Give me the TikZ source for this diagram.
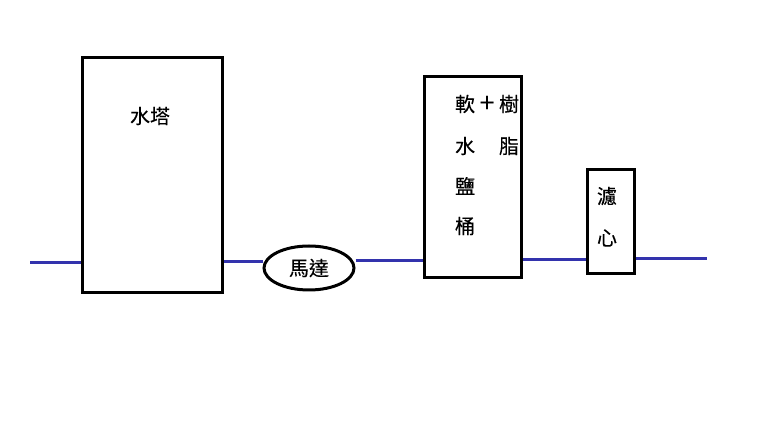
\documentclass[tikz,border=0pt]{standalone}
\usepackage{fontspec}
\newfontfamily\cjk{Noto Sans CJK TC}[FakeBold=0.3]
\usetikzlibrary{shapes.geometric}

\begin{document}
\begin{tikzpicture}[x=1pt,y=-1pt,
    line width=3pt,
    tank/.style = {
      draw,
      rectangle,
      inner sep = 0pt
    },
    pipe/.style = {
      draw = blue!60!black!80,
      line width = 3pt
    },
    txt/.style = {
      font = \cjk\fontsize{20}{20}\selectfont,
      inner sep = 0pt
    }
  ]
  \useasboundingbox (0,0) rectangle (780,430);

  % tanks
  \node[tank,minimum width=140,minimum height=235] (tower) at (152,175.5) {};
  \node[tank,minimum width=97,minimum height=201] (softener) at (472.5,177.5) {};
  \node[tank,minimum width=47,minimum height=104] (filter) at (610.5,222) {};
  \node[draw,ellipse,minimum width=90,minimum height=44] (motor) at (309,268)
    {\cjk\fontsize{20}{20}\selectfont 馬達};

  % labels
  \node[txt] (towerlbl) at (150,116) {水塔};
  \node[txt] (soft1) at (465,104) {軟};
  \node[txt,font=\cjk\fontsize{26}{26}\selectfont] (plus) at (487,104) {+};
  \node[txt] (resin1) at (509,104) {樹};
  \node[txt] (soft2) at (465,146) {水};
  \node[txt] (resin2) at (509,146) {脂};
  \node[txt] (soft3) at (465,186) {鹽};
  \node[txt] (soft4) at (465,226) {桶};
  \node[txt] (filt1) at (607,196) {濾};
  \node[txt] (filt2) at (607,238) {心};

  % pipes
  \coordinate (in) at (30,263);
  \coordinate (out) at (707,259);
  \draw[pipe] (in) -- (in -| tower.west);
  \draw[pipe] (tower.east |- 0,262) -- (motor.west |- 0,262);
  \draw[pipe] (motor.east |- 0,261) -- (softener.west |- 0,261);
  \draw[pipe] (softener.east |- 0,260) -- (filter.west |- 0,260);
  \draw[pipe] (filter.east |- out) -- (out);
\end{tikzpicture}
\end{document}
